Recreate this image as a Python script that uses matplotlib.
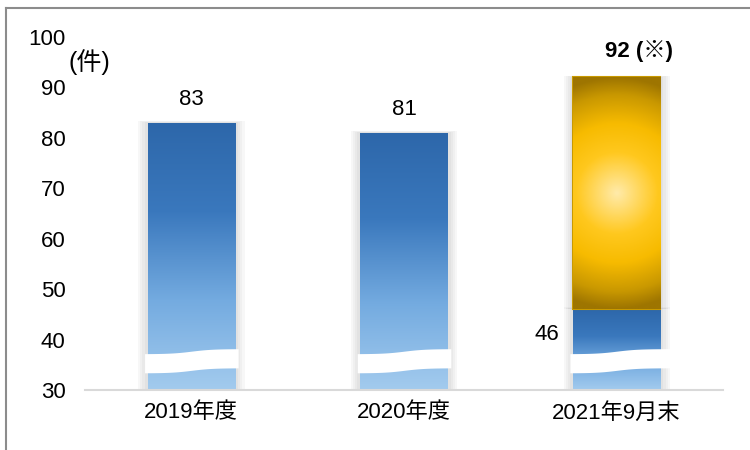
import matplotlib
matplotlib.use("Agg")
import matplotlib.pyplot as plt
from matplotlib.colors import LinearSegmentedColormap
from matplotlib.patches import Rectangle
from matplotlib.lines import Line2D
import numpy as np

plt.rcParams['font.family'] = ['Liberation Sans', 'Noto Sans CJK JP', 'DejaVu Sans']

# data
categories = ['2019年度', '2020年度', '2021年9月末']
blue_values = [83, 81, 46]
gold_values = [0, 0, 46]      # stacked on top of the blue part (46 + 46 = 92)
blue_labels = ['83', '81', '46']
total_label = '92 (※)'
y_ticks = [30, 40, 50, 60, 70, 80, 90, 100]
y_min, y_max = 30, 100

fs = 16

fig = plt.figure(figsize=(7.5, 4.5), dpi=100)
ax = fig.add_axes([85 / 750, 60 / 450, 638 / 750, 353 / 450])

x = np.arange(len(categories))
width = 0.41

blue_cmap = LinearSegmentedColormap.from_list('blue', ['#a3cbee', '#74abe0', '#3a78bd', '#2d67aa'])
gold_cmap = LinearSegmentedColormap.from_list(
    'gold', [(0, '#ffeaa8'), (0.35, '#ffc81e'), (0.6, '#f7bb00'),
             (0.85, '#c99800'), (1, '#9e7500')])

blue_bars = ax.bar(x, [v - y_min for v in blue_values], width, bottom=y_min,
                   color='none', edgecolor='none', zorder=3)
gold_bars = ax.bar(x, gold_values, width, bottom=blue_values,
                   color='none', edgecolor='none', zorder=4)
for g in gold_bars:
    if g.get_height() > 0:
        g.set_edgecolor('#c99a00')
        g.set_linewidth(1.5)

# soft shadow around bars
for b in list(blue_bars) + [g for g in gold_bars if g.get_height() > 0]:
    x0, y0 = b.get_x(), b.get_y()
    w, h = b.get_width(), b.get_height()
    for m in [0.045, 0.035, 0.025, 0.015]:
        ax.add_patch(Rectangle((x0 - m, y0), w + 2 * m, h + m * 8, color='#808080',
                               alpha=0.06, lw=0, zorder=2))

# blue vertical gradient
grad = np.linspace(0, 1, 256).reshape(-1, 1)
for b in blue_bars:
    x0, y0 = b.get_x(), b.get_y()
    w, h = b.get_width(), b.get_height()
    im = ax.imshow(grad, cmap=blue_cmap, aspect='auto', origin='lower',
                   extent=[x0, x0 + w, y0, y0 + h], zorder=3)
    im.set_clip_path(b)

# gold radial gradient (circular in screen space, scaled to bar height)
for g in gold_bars:
    if g.get_height() <= 0:
        continue
    x0, y0 = g.get_x(), g.get_y()
    w, h = g.get_width(), g.get_height()
    gx, gy = np.meshgrid(np.linspace(-1, 1, 200), np.linspace(-1, 1, 200))
    r = np.clip(np.sqrt((gx * 0.38) ** 2 + gy ** 2), 0, 1)
    im = ax.imshow(r, cmap=gold_cmap, aspect='auto', origin='lower',
                   extent=[x0, x0 + w, y0, y0 + h], zorder=4)
    im.set_clip_path(g)

# white break marks
for i, b in enumerate(blue_bars):
    x0, w = b.get_x(), b.get_width()
    extra = 0.05 if i == 2 else 0.015
    xs = np.linspace(x0 - 0.015, x0 + w + extra, 200)
    t = (xs - (x0 + w / 2)) / (w * 0.12)
    center = 35.3 + 1.0 / (1 + np.exp(-t))
    ax.fill_between(xs, center - 1.9, center + 1.9, color='white', lw=0, zorder=5)

# labels
for i, b in enumerate(blue_bars):
    if gold_values[i] > 0:
        ax.annotate(blue_labels[i], (b.get_x(), blue_values[i]), xytext=(-14, -25),
                    textcoords='offset pixels', ha='right', va='center', fontsize=fs)
    else:
        ax.annotate(blue_labels[i], (x[i], blue_values[i]), xytext=(0, 13),
                    textcoords='offset pixels', ha='center', va='bottom', fontsize=fs)
ax.annotate(total_label, (x[2], blue_values[2] + gold_values[2]), xytext=(22, 26),
            textcoords='offset pixels', ha='center', va='center', fontsize=fs,
            fontweight='bold')

ax.set_xlim(-0.5, 2.5)
ax.set_ylim(y_min, y_max)
ax.set_yticks(y_ticks)
ax.set_xticks(x)
ax.set_xticklabels(categories)
ax.tick_params(axis='y', length=0, pad=14, labelsize=fs)
ax.tick_params(axis='x', length=0, pad=9, labelsize=fs)
for s in ['top', 'right', 'left']:
    ax.spines[s].set_visible(False)
ax.spines['bottom'].set_color('#d9d9d9')
ax.spines['bottom'].set_linewidth(1.5)
ax.spines['bottom'].set_zorder(6)

fig.text(68 / 750, 1 - 62 / 450, '(件)', ha='left', va='center', fontsize=18)

# outer frame (left and top only)
fig.add_artist(Line2D([6 / 750, 6 / 750], [0, 1 - 8 / 450], color='#8c8c8c', lw=1.5))
fig.add_artist(Line2D([6 / 750, 1], [1 - 8 / 450, 1 - 8 / 450], color='#8c8c8c', lw=1.5))

fig.savefig('out.png', dpi=100)
